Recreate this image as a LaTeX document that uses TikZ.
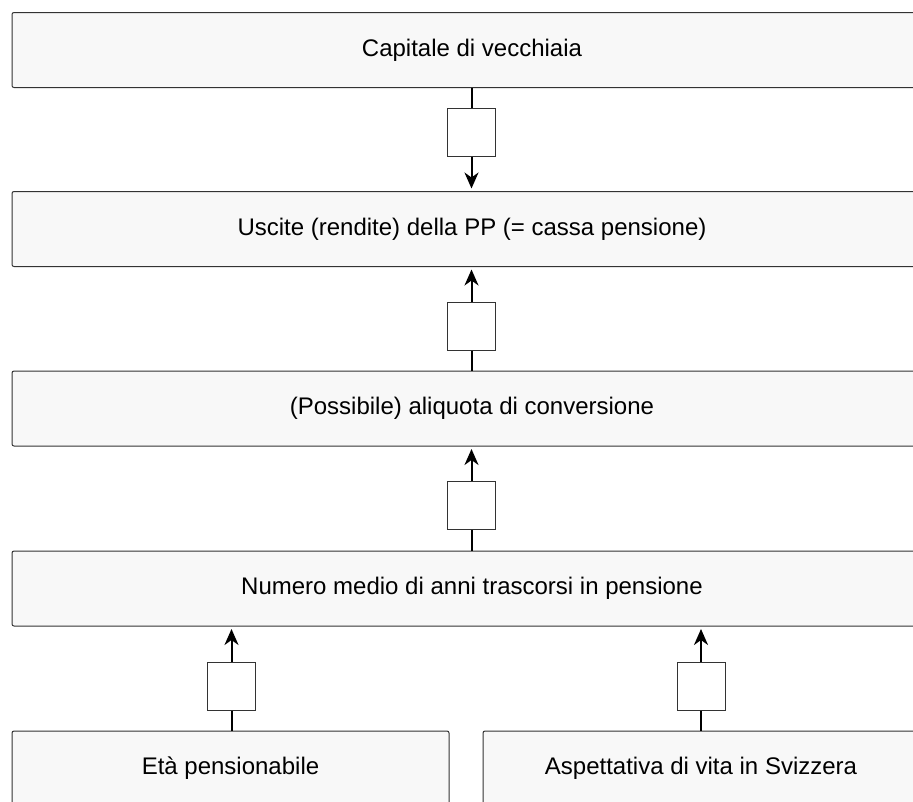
\documentclass[tikz,border=0pt]{standalone}
\usepackage{fontspec}
\setmainfont{Liberation Sans}
\usetikzlibrary{arrows.meta}
\definecolor{boxfill}{HTML}{F8F8F8}
\definecolor{boxline}{HTML}{333333}
\tikzset{
  bigbox/.style={draw=boxline, line width=1pt, fill=boxfill, rounded corners=2pt,
    minimum height=75pt, inner sep=0pt, font=\fontsize{24}{29}\selectfont},
  sqbox/.style={draw=boxline, line width=1pt, fill=white, minimum width=48pt,
    minimum height=48pt, inner sep=0pt},
  link/.style={line width=2pt, black},
  arr/.style={link, -{Stealth[length=16pt, width=14pt, inset=5pt]}, shorten >=2.5pt},
}
\begin{document}
\begin{tikzpicture}[x=1pt,y=-1pt]
\useasboundingbox (0,0) rectangle (913,801);
\clip (0,0) rectangle (913,801);
\node[bigbox, minimum width=920pt] (b1) at (472,50) {Capitale di vecchiaia};
\node[bigbox, minimum width=920pt] (b2) at (472,229) {Uscite (rendite) della PP (= cassa pensione)};
\node[bigbox, minimum width=920pt] (b3) at (472,408.5) {(Possibile) aliquota di conversione};
\node[bigbox, minimum width=920pt] (b4) at (472,588.5) {Numero medio di anni trascorsi in pensione};
\node[bigbox, minimum width=437pt] (b5) at (230.5,768.5) {Età pensionabile};
\node[bigbox, minimum width=436pt] (b6) at (701,768.5) {Aspettativa di vita in Svizzera};

\node[sqbox] (s1) at (471.5,132) {};
\node[sqbox] (s2) at (471.5,326) {};
\node[sqbox] (s3) at (471.5,505.5) {};
\node[sqbox] (s4) at (231.5,686) {};
\node[sqbox] (s5) at (701,686) {};

\draw[link] (b1.south -| s1.north) -- (s1.north);
\draw[arr] (s1.south) -- (s1.south |- b2.north);
\draw[arr] (s2.north) -- (s2.north |- b2.south);
\draw[link] (s2.south) -- (s2.south |- b3.north);
\draw[arr] (s3.north) -- (s3.north |- b3.south);
\draw[link] (s3.south) -- (s3.south |- b4.north);
\draw[arr] (s4.north) -- (s4.north |- b4.south);
\draw[link] (s4.south) -- (s4.south |- b5.north);
\draw[arr] (s5.north) -- (s5.north |- b4.south);
\draw[link] (s5.south) -- (s5.south |- b6.north);
\end{tikzpicture}
\end{document}
